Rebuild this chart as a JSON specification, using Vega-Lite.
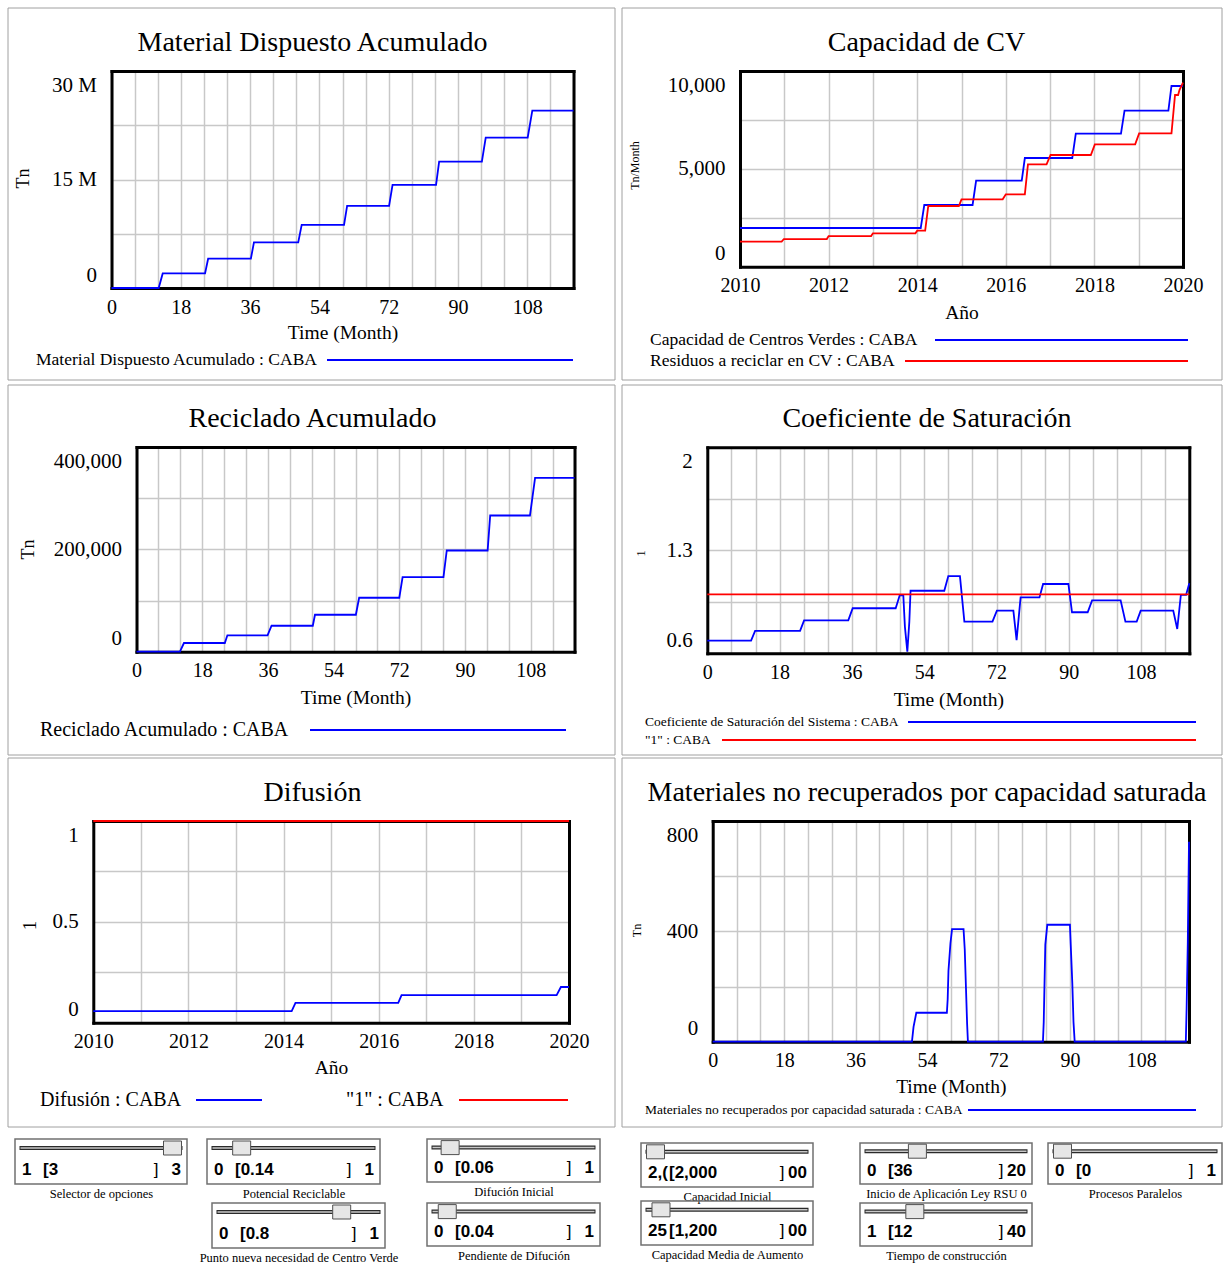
{
  "$schema": "https://vega.github.io/schema/vega-lite/v6.json",
  "width": 1224,
  "height": 1264,
  "padding": 0,
  "autosize": {"type": "none"},
  "background": "white",
  "config": {
    "view": {"stroke": null},
    "font": "Liberation Serif",
    "axis": {"labelFont": "Liberation Serif", "titleFont": "Liberation Serif", "labelColor": "#000000", "titleColor": "#000000", "titleFontWeight": "normal", "domainColor": "#000000", "domainWidth": 3, "domainCap": "square", "gridColor": "#c8c8c8", "gridWidth": 1.5, "gridOpacity": 1, "ticks": false, "tickSize": 0, "labelOverlap": false, "labelBound": false, "labelFlush": false, "labelFontSize": 20, "labelPadding": 9, "titleFontSize": 19.5, "titlePadding": 0},
    "legend": {"labelFont": "Liberation Serif", "labelColor": "#000000", "padding": 0, "symbolSize": 4, "symbolStrokeWidth": 1.8, "labelAlign": "left", "labelBaseline": "middle", "labelLimit": 1000, "orient": "none"}
  },
  "datasets": {
    "p1": [
      {"t": 0, "v": 0, "s": "Material Dispuesto Acumulado : CABA"},
      {"t": 12.26, "v": 0, "s": "Material Dispuesto Acumulado : CABA"},
      {"t": 13.3, "v": 2020000, "s": "Material Dispuesto Acumulado : CABA"},
      {"t": 24.3, "v": 2020000, "s": "Material Dispuesto Acumulado : CABA"},
      {"t": 25.1, "v": 4050000, "s": "Material Dispuesto Acumulado : CABA"},
      {"t": 36.2, "v": 4050000, "s": "Material Dispuesto Acumulado : CABA"},
      {"t": 37, "v": 6300000, "s": "Material Dispuesto Acumulado : CABA"},
      {"t": 48.5, "v": 6300000, "s": "Material Dispuesto Acumulado : CABA"},
      {"t": 49.4, "v": 8740000, "s": "Material Dispuesto Acumulado : CABA"},
      {"t": 60.4, "v": 8740000, "s": "Material Dispuesto Acumulado : CABA"},
      {"t": 61.2, "v": 11360000, "s": "Material Dispuesto Acumulado : CABA"},
      {"t": 72.1, "v": 11360000, "s": "Material Dispuesto Acumulado : CABA"},
      {"t": 73, "v": 14260000, "s": "Material Dispuesto Acumulado : CABA"},
      {"t": 84.3, "v": 14260000, "s": "Material Dispuesto Acumulado : CABA"},
      {"t": 85.1, "v": 17480000, "s": "Material Dispuesto Acumulado : CABA"},
      {"t": 96.2, "v": 17480000, "s": "Material Dispuesto Acumulado : CABA"},
      {"t": 97.2, "v": 20800000, "s": "Material Dispuesto Acumulado : CABA"},
      {"t": 108.1, "v": 20800000, "s": "Material Dispuesto Acumulado : CABA"},
      {"t": 109.3, "v": 24520000, "s": "Material Dispuesto Acumulado : CABA"},
      {"t": 120, "v": 24520000, "s": "Material Dispuesto Acumulado : CABA"}
    ],
    "p2": [
      {"t": 2010, "v": 1978, "s": "Capacidad de Centros Verdes : CABA"},
      {"t": 2014.08, "v": 1978, "s": "Capacidad de Centros Verdes : CABA"},
      {"t": 2014.16, "v": 3153, "s": "Capacidad de Centros Verdes : CABA"},
      {"t": 2015.25, "v": 3153, "s": "Capacidad de Centros Verdes : CABA"},
      {"t": 2015.33, "v": 4395, "s": "Capacidad de Centros Verdes : CABA"},
      {"t": 2016.36, "v": 4395, "s": "Capacidad de Centros Verdes : CABA"},
      {"t": 2016.43, "v": 5554, "s": "Capacidad de Centros Verdes : CABA"},
      {"t": 2017.5, "v": 5554, "s": "Capacidad de Centros Verdes : CABA"},
      {"t": 2017.58, "v": 6798, "s": "Capacidad de Centros Verdes : CABA"},
      {"t": 2018.6, "v": 6798, "s": "Capacidad de Centros Verdes : CABA"},
      {"t": 2018.68, "v": 7973, "s": "Capacidad de Centros Verdes : CABA"},
      {"t": 2019.67, "v": 7973, "s": "Capacidad de Centros Verdes : CABA"},
      {"t": 2019.74, "v": 9234, "s": "Capacidad de Centros Verdes : CABA"},
      {"t": 2020, "v": 9234, "s": "Capacidad de Centros Verdes : CABA"},
      {"t": 2010, "v": 1278, "s": "Residuos a reciclar en CV : CABA"},
      {"t": 2010.94, "v": 1278, "s": "Residuos a reciclar en CV : CABA"},
      {"t": 2010.99, "v": 1414, "s": "Residuos a reciclar en CV : CABA"},
      {"t": 2011.96, "v": 1414, "s": "Residuos a reciclar en CV : CABA"},
      {"t": 2012.0, "v": 1567, "s": "Residuos a reciclar en CV : CABA"},
      {"t": 2012.96, "v": 1567, "s": "Residuos a reciclar en CV : CABA"},
      {"t": 2013.0, "v": 1704, "s": "Residuos a reciclar en CV : CABA"},
      {"t": 2013.96, "v": 1704, "s": "Residuos a reciclar en CV : CABA"},
      {"t": 2014.0, "v": 1840, "s": "Residuos a reciclar en CV : CABA"},
      {"t": 2014.18, "v": 1840, "s": "Residuos a reciclar en CV : CABA"},
      {"t": 2014.25, "v": 3102, "s": "Residuos a reciclar en CV : CABA"},
      {"t": 2014.94, "v": 3102, "s": "Residuos a reciclar en CV : CABA"},
      {"t": 2015.0, "v": 3444, "s": "Residuos a reciclar en CV : CABA"},
      {"t": 2015.93, "v": 3444, "s": "Residuos a reciclar en CV : CABA"},
      {"t": 2016.0, "v": 3700, "s": "Residuos a reciclar en CV : CABA"},
      {"t": 2016.43, "v": 3700, "s": "Residuos a reciclar en CV : CABA"},
      {"t": 2016.5, "v": 5232, "s": "Residuos a reciclar en CV : CABA"},
      {"t": 2016.92, "v": 5232, "s": "Residuos a reciclar en CV : CABA"},
      {"t": 2017.01, "v": 5708, "s": "Residuos a reciclar en CV : CABA"},
      {"t": 2017.92, "v": 5708, "s": "Residuos a reciclar en CV : CABA"},
      {"t": 2018.01, "v": 6252, "s": "Residuos a reciclar en CV : CABA"},
      {"t": 2018.92, "v": 6252, "s": "Residuos a reciclar en CV : CABA"},
      {"t": 2019.01, "v": 6815, "s": "Residuos a reciclar en CV : CABA"},
      {"t": 2019.74, "v": 6815, "s": "Residuos a reciclar en CV : CABA"},
      {"t": 2019.82, "v": 8773, "s": "Residuos a reciclar en CV : CABA"},
      {"t": 2019.89, "v": 8773, "s": "Residuos a reciclar en CV : CABA"},
      {"t": 2019.92, "v": 9029, "s": "Residuos a reciclar en CV : CABA"},
      {"t": 2020, "v": 9404, "s": "Residuos a reciclar en CV : CABA"}
    ],
    "p3": [
      {"t": 0, "v": 0, "s": "Reciclado Acumulado : CABA"},
      {"t": 11.9, "v": 0, "s": "Reciclado Acumulado : CABA"},
      {"t": 13, "v": 17000, "s": "Reciclado Acumulado : CABA"},
      {"t": 24.2, "v": 17000, "s": "Reciclado Acumulado : CABA"},
      {"t": 24.9, "v": 32000, "s": "Reciclado Acumulado : CABA"},
      {"t": 35.9, "v": 32000, "s": "Reciclado Acumulado : CABA"},
      {"t": 37, "v": 50700, "s": "Reciclado Acumulado : CABA"},
      {"t": 48.3, "v": 50700, "s": "Reciclado Acumulado : CABA"},
      {"t": 48.9, "v": 72200, "s": "Reciclado Acumulado : CABA"},
      {"t": 60.1, "v": 72200, "s": "Reciclado Acumulado : CABA"},
      {"t": 61, "v": 105400, "s": "Reciclado Acumulado : CABA"},
      {"t": 72, "v": 105400, "s": "Reciclado Acumulado : CABA"},
      {"t": 72.9, "v": 145800, "s": "Reciclado Acumulado : CABA"},
      {"t": 84.1, "v": 145800, "s": "Reciclado Acumulado : CABA"},
      {"t": 85, "v": 197800, "s": "Reciclado Acumulado : CABA"},
      {"t": 96.2, "v": 197800, "s": "Reciclado Acumulado : CABA"},
      {"t": 96.9, "v": 266100, "s": "Reciclado Acumulado : CABA"},
      {"t": 107.8, "v": 266100, "s": "Reciclado Acumulado : CABA"},
      {"t": 109.2, "v": 339500, "s": "Reciclado Acumulado : CABA"},
      {"t": 120, "v": 339500, "s": "Reciclado Acumulado : CABA"}
    ],
    "p4": [
      {"t": 0, "v": 0.686, "s": "Coeficiente de Saturación del Sistema : CABA"},
      {"t": 10.9, "v": 0.686, "s": "Coeficiente de Saturación del Sistema : CABA"},
      {"t": 11.9, "v": 0.752, "s": "Coeficiente de Saturación del Sistema : CABA"},
      {"t": 23.1, "v": 0.752, "s": "Coeficiente de Saturación del Sistema : CABA"},
      {"t": 24.1, "v": 0.824, "s": "Coeficiente de Saturación del Sistema : CABA"},
      {"t": 35.1, "v": 0.824, "s": "Coeficiente de Saturación del Sistema : CABA"},
      {"t": 36.2, "v": 0.906, "s": "Coeficiente de Saturación del Sistema : CABA"},
      {"t": 46.9, "v": 0.906, "s": "Coeficiente de Saturación del Sistema : CABA"},
      {"t": 47.9, "v": 0.994, "s": "Coeficiente de Saturación del Sistema : CABA"},
      {"t": 48.8, "v": 0.994, "s": "Coeficiente de Saturación del Sistema : CABA"},
      {"t": 49.2, "v": 0.78, "s": "Coeficiente de Saturación del Sistema : CABA"},
      {"t": 49.8, "v": 0.611, "s": "Coeficiente de Saturación del Sistema : CABA"},
      {"t": 50.3, "v": 0.815, "s": "Coeficiente de Saturación del Sistema : CABA"},
      {"t": 50.6, "v": 1.025, "s": "Coeficiente de Saturación del Sistema : CABA"},
      {"t": 59, "v": 1.025, "s": "Coeficiente de Saturación del Sistema : CABA"},
      {"t": 60, "v": 1.125, "s": "Coeficiente de Saturación del Sistema : CABA"},
      {"t": 62.9, "v": 1.125, "s": "Coeficiente de Saturación del Sistema : CABA"},
      {"t": 64, "v": 0.815, "s": "Coeficiente de Saturación del Sistema : CABA"},
      {"t": 71, "v": 0.815, "s": "Coeficiente de Saturación del Sistema : CABA"},
      {"t": 72.1, "v": 0.89, "s": "Coeficiente de Saturación del Sistema : CABA"},
      {"t": 76.2, "v": 0.89, "s": "Coeficiente de Saturación del Sistema : CABA"},
      {"t": 77, "v": 0.69, "s": "Coeficiente de Saturación del Sistema : CABA"},
      {"t": 78, "v": 0.98, "s": "Coeficiente de Saturación del Sistema : CABA"},
      {"t": 82.7, "v": 0.98, "s": "Coeficiente de Saturación del Sistema : CABA"},
      {"t": 83.6, "v": 1.071, "s": "Coeficiente de Saturación del Sistema : CABA"},
      {"t": 89.9, "v": 1.071, "s": "Coeficiente de Saturación del Sistema : CABA"},
      {"t": 90.8, "v": 0.879, "s": "Coeficiente de Saturación del Sistema : CABA"},
      {"t": 94.7, "v": 0.879, "s": "Coeficiente de Saturación del Sistema : CABA"},
      {"t": 95.8, "v": 0.96, "s": "Coeficiente de Saturación del Sistema : CABA"},
      {"t": 102.9, "v": 0.96, "s": "Coeficiente de Saturación del Sistema : CABA"},
      {"t": 104.1, "v": 0.815, "s": "Coeficiente de Saturación del Sistema : CABA"},
      {"t": 106.9, "v": 0.815, "s": "Coeficiente de Saturación del Sistema : CABA"},
      {"t": 107.9, "v": 0.89, "s": "Coeficiente de Saturación del Sistema : CABA"},
      {"t": 116, "v": 0.89, "s": "Coeficiente de Saturación del Sistema : CABA"},
      {"t": 117, "v": 0.765, "s": "Coeficiente de Saturación del Sistema : CABA"},
      {"t": 117.9, "v": 0.997, "s": "Coeficiente de Saturación del Sistema : CABA"},
      {"t": 119.2, "v": 0.997, "s": "Coeficiente de Saturación del Sistema : CABA"},
      {"t": 120, "v": 1.076, "s": "Coeficiente de Saturación del Sistema : CABA"},
      {"t": 0, "v": 1, "s": "\"1\" : CABA"},
      {"t": 120, "v": 1, "s": "\"1\" : CABA"}
    ],
    "p5": [
      {"t": 2010, "v": 0.057, "s": "Difusión : CABA"},
      {"t": 2014.17, "v": 0.057, "s": "Difusión : CABA"},
      {"t": 2014.25, "v": 0.098, "s": "Difusión : CABA"},
      {"t": 2016.41, "v": 0.098, "s": "Difusión : CABA"},
      {"t": 2016.48, "v": 0.137, "s": "Difusión : CABA"},
      {"t": 2019.74, "v": 0.137, "s": "Difusión : CABA"},
      {"t": 2019.83, "v": 0.177, "s": "Difusión : CABA"},
      {"t": 2020, "v": 0.177, "s": "Difusión : CABA"},
      {"t": 2010, "v": 1, "s": "\"1\" : CABA"},
      {"t": 2020, "v": 1, "s": "\"1\" : CABA"}
    ],
    "p6": [
      {"t": 0, "v": 0, "s": "Materiales no recuperados por capacidad saturada : CABA"},
      {"t": 50.2, "v": 0, "s": "Materiales no recuperados por capacidad saturada : CABA"},
      {"t": 50.6, "v": 54, "s": "Materiales no recuperados por capacidad saturada : CABA"},
      {"t": 51.3, "v": 105, "s": "Materiales no recuperados por capacidad saturada : CABA"},
      {"t": 59, "v": 105, "s": "Materiales no recuperados por capacidad saturada : CABA"},
      {"t": 59.2, "v": 154, "s": "Materiales no recuperados por capacidad saturada : CABA"},
      {"t": 59.4, "v": 257, "s": "Materiales no recuperados por capacidad saturada : CABA"},
      {"t": 59.9, "v": 357, "s": "Materiales no recuperados por capacidad saturada : CABA"},
      {"t": 60.3, "v": 408, "s": "Materiales no recuperados por capacidad saturada : CABA"},
      {"t": 63.2, "v": 408, "s": "Materiales no recuperados por capacidad saturada : CABA"},
      {"t": 63.5, "v": 335, "s": "Materiales no recuperados por capacidad saturada : CABA"},
      {"t": 63.8, "v": 199, "s": "Materiales no recuperados por capacidad saturada : CABA"},
      {"t": 64.1, "v": 64, "s": "Materiales no recuperados por capacidad saturada : CABA"},
      {"t": 64.3, "v": 0, "s": "Materiales no recuperados por capacidad saturada : CABA"},
      {"t": 83.2, "v": 0, "s": "Materiales no recuperados por capacidad saturada : CABA"},
      {"t": 83.4, "v": 71, "s": "Materiales no recuperados por capacidad saturada : CABA"},
      {"t": 83.6, "v": 213, "s": "Materiales no recuperados por capacidad saturada : CABA"},
      {"t": 83.8, "v": 352, "s": "Materiales no recuperados por capacidad saturada : CABA"},
      {"t": 84.3, "v": 424, "s": "Materiales no recuperados por capacidad saturada : CABA"},
      {"t": 90, "v": 424, "s": "Materiales no recuperados por capacidad saturada : CABA"},
      {"t": 90.2, "v": 352, "s": "Materiales no recuperados por capacidad saturada : CABA"},
      {"t": 90.6, "v": 213, "s": "Materiales no recuperados por capacidad saturada : CABA"},
      {"t": 90.9, "v": 71, "s": "Materiales no recuperados por capacidad saturada : CABA"},
      {"t": 91.2, "v": 0, "s": "Materiales no recuperados por capacidad saturada : CABA"},
      {"t": 119.2, "v": 0, "s": "Materiales no recuperados por capacidad saturada : CABA"},
      {"t": 119.4, "v": 121, "s": "Materiales no recuperados por capacidad saturada : CABA"},
      {"t": 119.7, "v": 362, "s": "Materiales no recuperados por capacidad saturada : CABA"},
      {"t": 120, "v": 725, "s": "Materiales no recuperados por capacidad saturada : CABA"}
    ]
  },
  "resolve": {"scale": {"x": "independent", "y": "independent", "color": "independent"}},
  "layer": [
    {
      "data": {"name": "p1"},
      "resolve": {"axis": {"x": "independent", "y": "independent"}},
      "layer": [
        {
          "mark": {"type": "line", "strokeWidth": 1.8},
          "encoding": {
            "x": {"field": "t", "type": "quantitative", "scale": {"domain": [0, 120], "range": [111.5, 573.5], "nice": false, "zero": false},
              "axis": {"orient": "top", "offset": -71, "grid": true, "labels": false, "values": [0, 6, 12, 18, 24, 30, 36, 42, 48, 54, 60, 66, 72, 78, 84, 90, 96, 102, 108, 114, 120], "title": "Material Dispuesto Acumulado", "titleFontSize": 28, "titleX": 312, "titleY": -21, "titleAlign": "center", "titleBaseline": "alphabetic", "titleAngle": 0}},
            "y": {"field": "v", "type": "quantitative", "scale": {"domain": [0, 30000000], "range": [288, 71], "nice": false, "zero": false},
              "axis": {"orient": "left", "offset": -111.5, "grid": true, "values": [0, 7500000, 15000000, 22500000, 30000000], "labelExpr": "datum.value === 0 ? '0' : datum.value === 15000000 ? '15 M' : datum.value === 30000000 ? '30 M' : ''", "labelFlush": true, "labelFlushOffset": -3, "labelFontSize": 21, "labelPadding": 15, "title": "Tn", "titleFontSize": 18, "titleX": -83.5, "titleY": 178, "titleAlign": "center", "titleBaseline": "alphabetic", "titleAngle": 270}},
            "color": {"field": "s", "type": "nominal", "scale": {"domain": ["Material Dispuesto Acumulado : CABA"], "range": ["#0000ff"]},
              "legend": {"title": null, "orient": "none", "legendX": 564.25, "legendY": 351.25, "labelFontSize": 17.5, "labelOffset": -545.75, "symbolType": "M-246,0H0"}}
          }
        },
        {
          "mark": {"type": "line", "opacity": 0},
          "encoding": {
            "x": {"field": "t", "type": "quantitative", "axis": {"orient": "bottom", "offset": -976, "grid": false, "values": [0, 18, 36, 54, 72, 90, 108], "title": "Time (Month)", "titleX": 342.5, "titleY": 50, "titleAlign": "center", "titleBaseline": "alphabetic"}},
            "y": {"field": "v", "type": "quantitative", "axis": {"orient": "right", "offset": -650.5, "grid": false, "labels": false, "title": null}}
          }
        },
        {
          "data": {"values": [{}]},
          "mark": {"type": "rect", "filled": false, "stroke": "#a0a0a0", "strokeWidth": 1, "xOffset": -103.5, "x2Offset": 41.5, "yOffset": 92, "y2Offset": -63},
          "encoding": {"x": {"datum": 0, "type": "quantitative", "axis": null}, "x2": {"datum": 120}, "y": {"datum": 0, "type": "quantitative", "axis": null}, "y2": {"datum": 30000000}}
        }
      ]
    },
    {
      "data": {"name": "p2"},
      "resolve": {"axis": {"x": "independent", "y": "independent"}},
      "layer": [
        {
          "mark": {"type": "line", "strokeWidth": 1.8},
          "encoding": {
            "x": {"field": "t", "type": "quantitative", "scale": {"domain": [2010, 2020], "range": [740, 1183], "nice": false, "zero": false},
              "axis": {"orient": "top", "offset": -71, "grid": true, "labels": false, "values": [2010, 2011, 2012, 2013, 2014, 2015, 2016, 2017, 2018, 2019, 2020], "title": "Capacidad de CV", "titleFontSize": 28, "titleX": 926, "titleY": -21, "titleAlign": "center", "titleBaseline": "alphabetic", "titleAngle": 0}},
            "y": {"field": "v", "type": "quantitative", "scale": {"domain": [0, 10000], "range": [266.7, 71], "nice": false, "zero": false},
              "axis": {"orient": "left", "offset": -740, "grid": true, "values": [0, 2500, 5000, 7500, 10000], "format": ",d", "labelExpr": "datum.value % 5000 === 0 ? datum.label : ''", "labelFlush": true, "labelFlushOffset": -3, "labelFontSize": 21, "labelPadding": 15, "title": "Tn/Month", "titleFontSize": 12, "titleX": -102, "titleY": 165, "titleAlign": "center", "titleBaseline": "alphabetic", "titleAngle": 270}},
            "color": {"field": "s", "type": "nominal", "scale": {"domain": ["Capacidad de Centros Verdes : CABA", "Residuos a reciclar en CV : CABA"], "range": ["#0000ff", "#ff0000"]},
              "legend": {"title": null, "orient": "none", "legendX": 1179.25, "legendY": 331.25, "labelFontSize": 17.5, "labelOffset": -546.75, "rowPadding": 2, "direction": "vertical",
                "encode": {"symbols": {"update": {"shape": {"signal": "datum.index === 0 ? 'M-253,0H0' : 'M-283,0H0'"}}}}}}
          }
        },
        {
          "mark": {"type": "line", "opacity": 0},
          "encoding": {
            "x": {"field": "t", "type": "quantitative", "axis": {"orient": "bottom", "offset": -997.3, "grid": false, "values": [2010, 2012, 2014, 2016, 2018, 2020], "format": "d", "title": "Año", "titleX": 961.5, "titleY": 51.5, "titleAlign": "center", "titleBaseline": "alphabetic"}},
            "y": {"field": "v", "type": "quantitative", "axis": {"orient": "right", "offset": -41, "grid": false, "labels": false, "title": null}}
          }
        },
        {
          "data": {"values": [{}]},
          "mark": {"type": "rect", "filled": false, "stroke": "#a0a0a0", "strokeWidth": 1, "xOffset": -118, "x2Offset": 39, "yOffset": 113.3, "y2Offset": -63},
          "encoding": {"x": {"datum": 2010, "type": "quantitative", "axis": null}, "x2": {"datum": 2020}, "y": {"datum": 0, "type": "quantitative", "axis": null}, "y2": {"datum": 10000}}
        }
      ]
    },
    {
      "data": {"name": "p3"},
      "resolve": {"axis": {"x": "independent", "y": "independent"}},
      "layer": [
        {
          "mark": {"type": "line", "strokeWidth": 1.8},
          "encoding": {
            "x": {"field": "t", "type": "quantitative", "scale": {"domain": [0, 120], "range": [136.5, 574.5], "nice": false, "zero": false},
              "axis": {"orient": "top", "offset": -447, "grid": true, "labels": false, "values": [0, 6, 12, 18, 24, 30, 36, 42, 48, 54, 60, 66, 72, 78, 84, 90, 96, 102, 108, 114, 120], "title": "Reciclado Acumulado", "titleFontSize": 28, "titleX": 312, "titleY": -21, "titleAlign": "center", "titleBaseline": "alphabetic", "titleAngle": 0}},
            "y": {"field": "v", "type": "quantitative", "scale": {"domain": [0, 400000], "range": [651.7, 447], "nice": false, "zero": false},
              "axis": {"orient": "left", "offset": -136.5, "grid": true, "values": [0, 100000, 200000, 300000, 400000], "format": ",d", "labelExpr": "datum.value % 200000 === 0 ? datum.label : ''", "labelFlush": true, "labelFlushOffset": -3, "labelFontSize": 21, "labelPadding": 15, "title": "Tn", "titleFontSize": 18, "titleX": -103.5, "titleY": 549, "titleAlign": "center", "titleBaseline": "alphabetic", "titleAngle": 270}},
            "color": {"field": "s", "type": "nominal", "scale": {"domain": ["Reciclado Acumulado : CABA"], "range": ["#0000ff"]},
              "legend": {"title": null, "orient": "none", "legendX": 556, "legendY": 720, "labelFontSize": 20, "labelOffset": -536, "symbolType": "M-256,0H0"}}
          }
        },
        {
          "mark": {"type": "line", "opacity": 0},
          "encoding": {
            "x": {"field": "t", "type": "quantitative", "axis": {"orient": "bottom", "offset": -612.3, "grid": false, "values": [0, 18, 36, 54, 72, 90, 108], "title": "Time (Month)", "titleX": 355.5, "titleY": 51.3, "titleAlign": "center", "titleBaseline": "alphabetic"}},
            "y": {"field": "v", "type": "quantitative", "axis": {"orient": "right", "offset": -649.5, "grid": false, "labels": false, "title": null}}
          }
        },
        {
          "data": {"values": [{}]},
          "mark": {"type": "rect", "filled": false, "stroke": "#a0a0a0", "strokeWidth": 1, "xOffset": -128.5, "x2Offset": 40.5, "yOffset": 103.3, "y2Offset": -62},
          "encoding": {"x": {"datum": 0, "type": "quantitative", "axis": null}, "x2": {"datum": 120}, "y": {"datum": 0, "type": "quantitative", "axis": null}, "y2": {"datum": 400000}}
        }
      ]
    },
    {
      "data": {"name": "p4"},
      "resolve": {"axis": {"x": "independent", "y": "independent"}},
      "layer": [
        {
          "mark": {"type": "line", "strokeWidth": 1.8},
          "encoding": {
            "x": {"field": "t", "type": "quantitative", "scale": {"domain": [0, 120], "range": [707.3, 1189.3], "nice": false, "zero": false},
              "axis": {"orient": "top", "offset": -447.3, "grid": true, "labels": false, "values": [0, 6, 12, 18, 24, 30, 36, 42, 48, 54, 60, 66, 72, 78, 84, 90, 96, 102, 108, 114, 120], "title": "Coeficiente de Saturación", "titleFontSize": 28, "titleX": 926.5, "titleY": -21, "titleAlign": "center", "titleBaseline": "alphabetic", "titleAngle": 0}},
            "y": {"field": "v", "type": "quantitative", "scale": {"domain": [0.6, 2], "range": [653.3, 447.3], "nice": false, "zero": false},
              "axis": {"orient": "left", "offset": -707.3, "grid": true, "values": [0.6, 0.95, 1.3, 1.65, 2], "labelExpr": "datum.value === 2 ? '2' : datum.value === 1.3 ? '1.3' : datum.value === 0.6 ? '0.6' : ''", "labelFlush": true, "labelFlushOffset": -3, "labelFontSize": 21, "labelPadding": 15, "title": "1", "titleFontSize": 13, "titleX": -63.3, "titleY": 553, "titleAlign": "center", "titleBaseline": "alphabetic", "titleAngle": 270}},
            "color": {"field": "s", "type": "nominal", "scale": {"domain": ["Coeficiente de Saturación del Sistema : CABA", "\"1\" : CABA"], "range": ["#0000ff", "#ff0000"]},
              "legend": {"title": null, "orient": "none", "legendX": 1189.25, "legendY": 715.25, "labelFontSize": 13.5, "labelOffset": -557.75, "rowPadding": 3, "direction": "vertical",
                "encode": {"symbols": {"update": {"shape": {"signal": "datum.index === 0 ? 'M-288,0H0' : 'M-474,0H0'"}}}}}}
          }
        },
        {
          "mark": {"type": "line", "opacity": 0},
          "encoding": {
            "x": {"field": "t", "type": "quantitative", "axis": {"orient": "bottom", "offset": -610.7, "grid": false, "values": [0, 18, 36, 54, 72, 90, 108], "title": "Time (Month)", "titleX": 948.3, "titleY": 51.7, "titleAlign": "center", "titleBaseline": "alphabetic"}},
            "y": {"field": "v", "type": "quantitative", "axis": {"orient": "right", "offset": -34.7, "grid": false, "labels": false, "title": null}}
          }
        },
        {
          "data": {"values": [{}]},
          "mark": {"type": "rect", "filled": false, "stroke": "#a0a0a0", "strokeWidth": 1, "xOffset": -85.3, "x2Offset": 32.7, "yOffset": 101.7, "y2Offset": -62.3},
          "encoding": {"x": {"datum": 0, "type": "quantitative", "axis": null}, "x2": {"datum": 120}, "y": {"datum": 0.6, "type": "quantitative", "axis": null}, "y2": {"datum": 2}}
        }
      ]
    },
    {
      "data": {"name": "p5"},
      "resolve": {"axis": {"x": "independent", "y": "independent"}},
      "layer": [
        {
          "mark": {"type": "line", "strokeWidth": 1.8},
          "encoding": {
            "x": {"field": "t", "type": "quantitative", "scale": {"domain": [2010, 2020], "range": [93.3, 569], "nice": false, "zero": false},
              "axis": {"orient": "top", "offset": -821, "grid": true, "labels": false, "values": [2010, 2011, 2012, 2013, 2014, 2015, 2016, 2017, 2018, 2019, 2020], "title": "Difusión", "titleFontSize": 28, "titleX": 312, "titleY": -21, "titleAlign": "center", "titleBaseline": "alphabetic", "titleAngle": 0}},
            "y": {"field": "v", "type": "quantitative", "scale": {"domain": [0, 1], "range": [1022.7, 821], "nice": false, "zero": false},
              "axis": {"orient": "left", "offset": -93.3, "grid": true, "values": [0, 0.25, 0.5, 0.75, 1], "labelExpr": "datum.value === 1 ? '1' : datum.value === 0.5 ? '0.5' : datum.value === 0 ? '0' : ''", "labelFlush": true, "labelFlushOffset": -3, "labelFontSize": 21, "labelPadding": 15, "title": "1", "titleFontSize": 18, "titleX": -58.3, "titleY": 925, "titleAlign": "center", "titleBaseline": "alphabetic", "titleAngle": 270}},
            "color": {"field": "s", "type": "nominal", "scale": {"domain": ["Difusión : CABA", "\"1\" : CABA"], "range": ["#0000ff", "#ff0000"]},
              "legend": {"title": null, "orient": "none", "legendX": 252, "legendY": 1090, "labelFontSize": 20, "labelOffset": -232, "direction": "horizontal", "columns": 2, "columnPadding": 80,
                "encode": {"symbols": {"update": {"shape": {"signal": "datum.index === 0 ? 'M-66,0H0' : 'M-109,0H0'"}}}}}}
          }
        },
        {
          "mark": {"type": "line", "opacity": 0},
          "encoding": {
            "x": {"field": "t", "type": "quantitative", "axis": {"orient": "bottom", "offset": -241.3, "grid": false, "values": [2010, 2012, 2014, 2016, 2018, 2020], "format": "d", "title": "Año", "titleX": 331, "titleY": 50.3, "titleAlign": "center", "titleBaseline": "alphabetic"}},
            "y": {"field": "v", "type": "quantitative", "axis": {"orient": "right", "offset": -655, "grid": false, "labels": false, "title": null}}
          }
        },
        {
          "data": {"values": [{}]},
          "mark": {"type": "rect", "filled": false, "stroke": "#a0a0a0", "strokeWidth": 1, "xOffset": -85.3, "x2Offset": 46, "yOffset": 104.3, "y2Offset": -63},
          "encoding": {"x": {"datum": 2010, "type": "quantitative", "axis": null}, "x2": {"datum": 2020}, "y": {"datum": 0, "type": "quantitative", "axis": null}, "y2": {"datum": 1}}
        }
      ]
    },
    {
      "data": {"name": "p6"},
      "resolve": {"axis": {"x": "independent", "y": "independent"}},
      "layer": [
        {
          "mark": {"type": "line", "strokeWidth": 1.8},
          "encoding": {
            "x": {"field": "t", "type": "quantitative", "scale": {"domain": [0, 120], "range": [712.7, 1189], "nice": false, "zero": false},
              "axis": {"orient": "top", "offset": -821, "grid": true, "labels": false, "values": [0, 6, 12, 18, 24, 30, 36, 42, 48, 54, 60, 66, 72, 78, 84, 90, 96, 102, 108, 114, 120], "title": "Materiales no recuperados por capacidad saturada", "titleFontSize": 28, "titleX": 926.5, "titleY": -21, "titleAlign": "center", "titleBaseline": "alphabetic", "titleAngle": 0}},
            "y": {"field": "v", "type": "quantitative", "scale": {"domain": [0, 800], "range": [1041.7, 821], "nice": false, "zero": false},
              "axis": {"orient": "left", "offset": -712.7, "grid": true, "values": [0, 200, 400, 600, 800], "labelExpr": "datum.value % 400 === 0 ? datum.label : ''", "labelFlush": true, "labelFlushOffset": -3, "labelFontSize": 21, "labelPadding": 15, "title": "Tn", "titleFontSize": 12, "titleX": -72.7, "titleY": 930, "titleAlign": "center", "titleBaseline": "alphabetic", "titleAngle": 270}},
            "color": {"field": "s", "type": "nominal", "scale": {"domain": ["Materiales no recuperados por capacidad saturada : CABA"], "range": ["#0000ff"]},
              "legend": {"title": null, "orient": "none", "legendX": 1189.25, "legendY": 1103.25, "labelFontSize": 13.5, "labelOffset": -557.75, "symbolType": "M-228,0H0"}}
          }
        },
        {
          "mark": {"type": "line", "opacity": 0},
          "encoding": {
            "x": {"field": "t", "type": "quantitative", "axis": {"orient": "bottom", "offset": -222.3, "grid": false, "values": [0, 18, 36, 54, 72, 90, 108], "title": "Time (Month)", "titleX": 950.8, "titleY": 50.3, "titleAlign": "center", "titleBaseline": "alphabetic"}},
            "y": {"field": "v", "type": "quantitative", "axis": {"orient": "right", "offset": -35, "grid": false, "labels": false, "title": null}}
          }
        },
        {
          "data": {"values": [{}]},
          "mark": {"type": "rect", "filled": false, "stroke": "#a0a0a0", "strokeWidth": 1, "xOffset": -90.7, "x2Offset": 33, "yOffset": 85.3, "y2Offset": -63},
          "encoding": {"x": {"datum": 0, "type": "quantitative", "axis": null}, "x2": {"datum": 120}, "y": {"datum": 0, "type": "quantitative", "axis": null}, "y2": {"datum": 800}}
        }
      ]
    },
    {
      "data": {"values": [{"min": 1, "max": 3, "value": 3, "lo": "1", "val": "[3", "hi": "3"}]},
      "resolve": {"axis": {"x": "independent", "y": "independent"}},
      "layer": [
        {"mark": {"type": "rect", "filled": false, "stroke": "#707070", "strokeWidth": 1.5, "xOffset": -14.5, "x2Offset": 14.5},
          "encoding": {"x": {"field": "min", "type": "quantitative", "scale": {"domain": [1, 3], "range": [15, 187], "padding": 14.5, "nice": false, "zero": false},
            "axis": {"orient": "bottom", "offset": -80, "domain": false, "labels": false, "grid": false, "title": "Selector de opciones", "titleFontSize": 12.5, "titleY": 13, "titleBaseline": "alphabetic", "titleAlign": "center"}},
            "x2": {"field": "max"}, "y": {"datum": 0, "type": "quantitative", "scale": {"domain": [0, 1], "range": [1184, 1139], "nice": false, "zero": false}, "axis": null}, "y2": {"datum": 1}}},
        {"mark": {"type": "rule", "stroke": "#2a2a2a", "strokeWidth": 4, "xOffset": -10, "x2Offset": 10}, "encoding": {"x": {"field": "min", "type": "quantitative", "axis": null}, "x2": {"field": "max"}, "y": {"datum": 0.8, "type": "quantitative", "axis": null}}},
        {"mark": {"type": "rule", "stroke": "#c8c8c8", "strokeWidth": 1.5, "xOffset": -9, "x2Offset": 9}, "encoding": {"x": {"field": "min", "type": "quantitative", "axis": null}, "x2": {"field": "max"}, "y": {"datum": 0.8, "type": "quantitative", "axis": null}}},
        {"mark": {"type": "point", "shape": "M-9,-7H9V7H-9Z", "size": 4, "filled": true, "fill": "#e6e6e6", "stroke": "#505050", "strokeWidth": 1, "opacity": 1}, "encoding": {"x": {"field": "value", "type": "quantitative", "axis": null}, "y": {"datum": 0.8, "type": "quantitative", "axis": null}}},
        {"mark": {"type": "text", "align": "left", "baseline": "middle", "dx": -7.5, "font": "Liberation Sans", "fontWeight": "bold", "fontSize": 17}, "encoding": {"x": {"field": "min", "type": "quantitative", "axis": null}, "y": {"datum": 0.32, "type": "quantitative", "axis": null}, "text": {"field": "lo"}}},
        {"mark": {"type": "text", "align": "left", "baseline": "middle", "dx": 13.5, "font": "Liberation Sans", "fontWeight": "bold", "fontSize": 17}, "encoding": {"x": {"field": "min", "type": "quantitative", "axis": null}, "y": {"datum": 0.32, "type": "quantitative", "axis": null}, "text": {"field": "val"}}},
        {"mark": {"type": "text", "align": "center", "baseline": "middle", "dx": -16.5, "font": "Liberation Sans", "fontSize": 17, "text": "]"}, "encoding": {"x": {"field": "max", "type": "quantitative", "axis": null}, "y": {"datum": 0.32, "type": "quantitative", "axis": null}}},
        {"mark": {"type": "text", "align": "right", "baseline": "middle", "dx": 8.5, "font": "Liberation Sans", "fontWeight": "bold", "fontSize": 17}, "encoding": {"x": {"field": "max", "type": "quantitative", "axis": null}, "y": {"datum": 0.32, "type": "quantitative", "axis": null}, "text": {"field": "hi"}}}
      ]
    },
    {
      "data": {"values": [{"min": 0, "max": 1, "value": 0.14, "lo": "0", "val": "[0.14", "hi": "1"}]},
      "resolve": {"axis": {"x": "independent", "y": "independent"}},
      "layer": [
        {"mark": {"type": "rect", "filled": false, "stroke": "#707070", "strokeWidth": 1.5, "xOffset": -14.5, "x2Offset": 14.5},
          "encoding": {"x": {"field": "min", "type": "quantitative", "scale": {"domain": [0, 1], "range": [207, 380], "padding": 14.5, "nice": false, "zero": false},
            "axis": {"orient": "bottom", "offset": -80, "domain": false, "labels": false, "grid": false, "title": "Potencial Reciclable", "titleFontSize": 12.5, "titleY": 13, "titleBaseline": "alphabetic", "titleAlign": "center"}},
            "x2": {"field": "max"}, "y": {"datum": 0, "type": "quantitative", "scale": {"domain": [0, 1], "range": [1184, 1139], "nice": false, "zero": false}, "axis": null}, "y2": {"datum": 1}}},
        {"mark": {"type": "rule", "stroke": "#2a2a2a", "strokeWidth": 4, "xOffset": -10, "x2Offset": 10}, "encoding": {"x": {"field": "min", "type": "quantitative", "axis": null}, "x2": {"field": "max"}, "y": {"datum": 0.8, "type": "quantitative", "axis": null}}},
        {"mark": {"type": "rule", "stroke": "#c8c8c8", "strokeWidth": 1.5, "xOffset": -9, "x2Offset": 9}, "encoding": {"x": {"field": "min", "type": "quantitative", "axis": null}, "x2": {"field": "max"}, "y": {"datum": 0.8, "type": "quantitative", "axis": null}}},
        {"mark": {"type": "point", "shape": "M-9,-7H9V7H-9Z", "size": 4, "filled": true, "fill": "#e6e6e6", "stroke": "#505050", "strokeWidth": 1, "opacity": 1}, "encoding": {"x": {"field": "value", "type": "quantitative", "axis": null}, "y": {"datum": 0.8, "type": "quantitative", "axis": null}}},
        {"mark": {"type": "text", "align": "left", "baseline": "middle", "dx": -7.5, "font": "Liberation Sans", "fontWeight": "bold", "fontSize": 17}, "encoding": {"x": {"field": "min", "type": "quantitative", "axis": null}, "y": {"datum": 0.32, "type": "quantitative", "axis": null}, "text": {"field": "lo"}}},
        {"mark": {"type": "text", "align": "left", "baseline": "middle", "dx": 13.5, "font": "Liberation Sans", "fontWeight": "bold", "fontSize": 17}, "encoding": {"x": {"field": "min", "type": "quantitative", "axis": null}, "y": {"datum": 0.32, "type": "quantitative", "axis": null}, "text": {"field": "val"}}},
        {"mark": {"type": "text", "align": "center", "baseline": "middle", "dx": -16.5, "font": "Liberation Sans", "fontSize": 17, "text": "]"}, "encoding": {"x": {"field": "max", "type": "quantitative", "axis": null}, "y": {"datum": 0.32, "type": "quantitative", "axis": null}}},
        {"mark": {"type": "text", "align": "right", "baseline": "middle", "dx": 8.5, "font": "Liberation Sans", "fontWeight": "bold", "fontSize": 17}, "encoding": {"x": {"field": "max", "type": "quantitative", "axis": null}, "y": {"datum": 0.32, "type": "quantitative", "axis": null}, "text": {"field": "hi"}}}
      ]
    },
    {
      "data": {"values": [{"min": 0, "max": 1, "value": 0.06, "lo": "0", "val": "[0.06", "hi": "1"}]},
      "resolve": {"axis": {"x": "independent", "y": "independent"}},
      "layer": [
        {"mark": {"type": "rect", "filled": false, "stroke": "#707070", "strokeWidth": 1.5, "xOffset": -14.5, "x2Offset": 14.5},
          "encoding": {"x": {"field": "min", "type": "quantitative", "scale": {"domain": [0, 1], "range": [427, 600], "padding": 14.5, "nice": false, "zero": false},
            "axis": {"orient": "bottom", "offset": -82, "domain": false, "labels": false, "grid": false, "title": "Difución Inicial", "titleFontSize": 12.5, "titleY": 13, "titleBaseline": "alphabetic", "titleAlign": "center"}},
            "x2": {"field": "max"}, "y": {"datum": 0, "type": "quantitative", "scale": {"domain": [0, 1], "range": [1182, 1139], "nice": false, "zero": false}, "axis": null}, "y2": {"datum": 1}}},
        {"mark": {"type": "rule", "stroke": "#2a2a2a", "strokeWidth": 4, "xOffset": -10, "x2Offset": 10}, "encoding": {"x": {"field": "min", "type": "quantitative", "axis": null}, "x2": {"field": "max"}, "y": {"datum": 0.8, "type": "quantitative", "axis": null}}},
        {"mark": {"type": "rule", "stroke": "#c8c8c8", "strokeWidth": 1.5, "xOffset": -9, "x2Offset": 9}, "encoding": {"x": {"field": "min", "type": "quantitative", "axis": null}, "x2": {"field": "max"}, "y": {"datum": 0.8, "type": "quantitative", "axis": null}}},
        {"mark": {"type": "point", "shape": "M-9,-7H9V7H-9Z", "size": 4, "filled": true, "fill": "#e6e6e6", "stroke": "#505050", "strokeWidth": 1, "opacity": 1}, "encoding": {"x": {"field": "value", "type": "quantitative", "axis": null}, "y": {"datum": 0.8, "type": "quantitative", "axis": null}}},
        {"mark": {"type": "text", "align": "left", "baseline": "middle", "dx": -7.5, "font": "Liberation Sans", "fontWeight": "bold", "fontSize": 17}, "encoding": {"x": {"field": "min", "type": "quantitative", "axis": null}, "y": {"datum": 0.32, "type": "quantitative", "axis": null}, "text": {"field": "lo"}}},
        {"mark": {"type": "text", "align": "left", "baseline": "middle", "dx": 13.5, "font": "Liberation Sans", "fontWeight": "bold", "fontSize": 17}, "encoding": {"x": {"field": "min", "type": "quantitative", "axis": null}, "y": {"datum": 0.32, "type": "quantitative", "axis": null}, "text": {"field": "val"}}},
        {"mark": {"type": "text", "align": "center", "baseline": "middle", "dx": -16.5, "font": "Liberation Sans", "fontSize": 17, "text": "]"}, "encoding": {"x": {"field": "max", "type": "quantitative", "axis": null}, "y": {"datum": 0.32, "type": "quantitative", "axis": null}}},
        {"mark": {"type": "text", "align": "right", "baseline": "middle", "dx": 8.5, "font": "Liberation Sans", "fontWeight": "bold", "fontSize": 17}, "encoding": {"x": {"field": "max", "type": "quantitative", "axis": null}, "y": {"datum": 0.32, "type": "quantitative", "axis": null}, "text": {"field": "hi"}}}
      ]
    },
    {
      "data": {"values": [{"min": 2000, "max": 20000, "value": 2000, "lo": "2,(", "val": "[2,000", "hi": "00"}]},
      "resolve": {"axis": {"x": "independent", "y": "independent"}},
      "layer": [
        {"mark": {"type": "rect", "filled": false, "stroke": "#707070", "strokeWidth": 1.5, "xOffset": -14.5, "x2Offset": 14.5},
          "encoding": {"x": {"field": "min", "type": "quantitative", "scale": {"domain": [2000, 20000], "range": [641, 813], "padding": 14.5, "nice": false, "zero": false},
            "axis": {"orient": "bottom", "offset": -77, "domain": false, "labels": false, "grid": false, "title": "Capacidad Inicial", "titleFontSize": 12.5, "titleY": 13, "titleBaseline": "alphabetic", "titleAlign": "center"}},
            "x2": {"field": "max"}, "y": {"datum": 0, "type": "quantitative", "scale": {"domain": [0, 1], "range": [1187, 1143], "nice": false, "zero": false}, "axis": null}, "y2": {"datum": 1}}},
        {"mark": {"type": "rule", "stroke": "#2a2a2a", "strokeWidth": 4, "xOffset": -10, "x2Offset": 10}, "encoding": {"x": {"field": "min", "type": "quantitative", "axis": null}, "x2": {"field": "max"}, "y": {"datum": 0.8, "type": "quantitative", "axis": null}}},
        {"mark": {"type": "rule", "stroke": "#c8c8c8", "strokeWidth": 1.5, "xOffset": -9, "x2Offset": 9}, "encoding": {"x": {"field": "min", "type": "quantitative", "axis": null}, "x2": {"field": "max"}, "y": {"datum": 0.8, "type": "quantitative", "axis": null}}},
        {"mark": {"type": "point", "shape": "M-9,-7H9V7H-9Z", "size": 4, "filled": true, "fill": "#e6e6e6", "stroke": "#505050", "strokeWidth": 1, "opacity": 1}, "encoding": {"x": {"field": "value", "type": "quantitative", "axis": null}, "y": {"datum": 0.8, "type": "quantitative", "axis": null}}},
        {"mark": {"type": "text", "align": "left", "baseline": "middle", "dx": -7.5, "font": "Liberation Sans", "fontWeight": "bold", "fontSize": 17}, "encoding": {"x": {"field": "min", "type": "quantitative", "axis": null}, "y": {"datum": 0.32, "type": "quantitative", "axis": null}, "text": {"field": "lo"}}},
        {"mark": {"type": "text", "align": "left", "baseline": "middle", "dx": 13.5, "font": "Liberation Sans", "fontWeight": "bold", "fontSize": 17}, "encoding": {"x": {"field": "min", "type": "quantitative", "axis": null}, "y": {"datum": 0.32, "type": "quantitative", "axis": null}, "text": {"field": "val"}}},
        {"mark": {"type": "text", "align": "center", "baseline": "middle", "dx": -16.5, "font": "Liberation Sans", "fontSize": 17, "text": "]"}, "encoding": {"x": {"field": "max", "type": "quantitative", "axis": null}, "y": {"datum": 0.32, "type": "quantitative", "axis": null}}},
        {"mark": {"type": "text", "align": "right", "baseline": "middle", "dx": 8.5, "font": "Liberation Sans", "fontWeight": "bold", "fontSize": 17}, "encoding": {"x": {"field": "max", "type": "quantitative", "axis": null}, "y": {"datum": 0.32, "type": "quantitative", "axis": null}, "text": {"field": "hi"}}}
      ]
    },
    {
      "data": {"values": [{"min": 0, "max": 120, "value": 36, "lo": "0", "val": "[36", "hi": "20"}]},
      "resolve": {"axis": {"x": "independent", "y": "independent"}},
      "layer": [
        {"mark": {"type": "rect", "filled": false, "stroke": "#707070", "strokeWidth": 1.5, "xOffset": -14.5, "x2Offset": 14.5},
          "encoding": {"x": {"field": "min", "type": "quantitative", "scale": {"domain": [0, 120], "range": [860, 1032], "padding": 14.5, "nice": false, "zero": false},
            "axis": {"orient": "bottom", "offset": -80, "domain": false, "labels": false, "grid": false, "title": "Inicio de Aplicación Ley RSU 0", "titleFontSize": 12.5, "titleY": 13, "titleBaseline": "alphabetic", "titleAlign": "center"}},
            "x2": {"field": "max"}, "y": {"datum": 0, "type": "quantitative", "scale": {"domain": [0, 1], "range": [1184, 1143], "nice": false, "zero": false}, "axis": null}, "y2": {"datum": 1}}},
        {"mark": {"type": "rule", "stroke": "#2a2a2a", "strokeWidth": 4, "xOffset": -10, "x2Offset": 10}, "encoding": {"x": {"field": "min", "type": "quantitative", "axis": null}, "x2": {"field": "max"}, "y": {"datum": 0.8, "type": "quantitative", "axis": null}}},
        {"mark": {"type": "rule", "stroke": "#c8c8c8", "strokeWidth": 1.5, "xOffset": -9, "x2Offset": 9}, "encoding": {"x": {"field": "min", "type": "quantitative", "axis": null}, "x2": {"field": "max"}, "y": {"datum": 0.8, "type": "quantitative", "axis": null}}},
        {"mark": {"type": "point", "shape": "M-9,-7H9V7H-9Z", "size": 4, "filled": true, "fill": "#e6e6e6", "stroke": "#505050", "strokeWidth": 1, "opacity": 1}, "encoding": {"x": {"field": "value", "type": "quantitative", "axis": null}, "y": {"datum": 0.8, "type": "quantitative", "axis": null}}},
        {"mark": {"type": "text", "align": "left", "baseline": "middle", "dx": -7.5, "font": "Liberation Sans", "fontWeight": "bold", "fontSize": 17}, "encoding": {"x": {"field": "min", "type": "quantitative", "axis": null}, "y": {"datum": 0.32, "type": "quantitative", "axis": null}, "text": {"field": "lo"}}},
        {"mark": {"type": "text", "align": "left", "baseline": "middle", "dx": 13.5, "font": "Liberation Sans", "fontWeight": "bold", "fontSize": 17}, "encoding": {"x": {"field": "min", "type": "quantitative", "axis": null}, "y": {"datum": 0.32, "type": "quantitative", "axis": null}, "text": {"field": "val"}}},
        {"mark": {"type": "text", "align": "center", "baseline": "middle", "dx": -16.5, "font": "Liberation Sans", "fontSize": 17, "text": "]"}, "encoding": {"x": {"field": "max", "type": "quantitative", "axis": null}, "y": {"datum": 0.32, "type": "quantitative", "axis": null}}},
        {"mark": {"type": "text", "align": "right", "baseline": "middle", "dx": 8.5, "font": "Liberation Sans", "fontWeight": "bold", "fontSize": 17}, "encoding": {"x": {"field": "max", "type": "quantitative", "axis": null}, "y": {"datum": 0.32, "type": "quantitative", "axis": null}, "text": {"field": "hi"}}}
      ]
    },
    {
      "data": {"values": [{"min": 0, "max": 1, "value": 0, "lo": "0", "val": "[0", "hi": "1"}]},
      "resolve": {"axis": {"x": "independent", "y": "independent"}},
      "layer": [
        {"mark": {"type": "rect", "filled": false, "stroke": "#707070", "strokeWidth": 1.5, "xOffset": -14.5, "x2Offset": 14.5},
          "encoding": {"x": {"field": "min", "type": "quantitative", "scale": {"domain": [0, 1], "range": [1048, 1222], "padding": 14.5, "nice": false, "zero": false},
            "axis": {"orient": "bottom", "offset": -80, "domain": false, "labels": false, "grid": false, "title": "Procesos Paralelos", "titleFontSize": 12.5, "titleY": 13, "titleBaseline": "alphabetic", "titleAlign": "center"}},
            "x2": {"field": "max"}, "y": {"datum": 0, "type": "quantitative", "scale": {"domain": [0, 1], "range": [1184, 1143], "nice": false, "zero": false}, "axis": null}, "y2": {"datum": 1}}},
        {"mark": {"type": "rule", "stroke": "#2a2a2a", "strokeWidth": 4, "xOffset": -10, "x2Offset": 10}, "encoding": {"x": {"field": "min", "type": "quantitative", "axis": null}, "x2": {"field": "max"}, "y": {"datum": 0.8, "type": "quantitative", "axis": null}}},
        {"mark": {"type": "rule", "stroke": "#c8c8c8", "strokeWidth": 1.5, "xOffset": -9, "x2Offset": 9}, "encoding": {"x": {"field": "min", "type": "quantitative", "axis": null}, "x2": {"field": "max"}, "y": {"datum": 0.8, "type": "quantitative", "axis": null}}},
        {"mark": {"type": "point", "shape": "M-9,-7H9V7H-9Z", "size": 4, "filled": true, "fill": "#e6e6e6", "stroke": "#505050", "strokeWidth": 1, "opacity": 1}, "encoding": {"x": {"field": "value", "type": "quantitative", "axis": null}, "y": {"datum": 0.8, "type": "quantitative", "axis": null}}},
        {"mark": {"type": "text", "align": "left", "baseline": "middle", "dx": -7.5, "font": "Liberation Sans", "fontWeight": "bold", "fontSize": 17}, "encoding": {"x": {"field": "min", "type": "quantitative", "axis": null}, "y": {"datum": 0.32, "type": "quantitative", "axis": null}, "text": {"field": "lo"}}},
        {"mark": {"type": "text", "align": "left", "baseline": "middle", "dx": 13.5, "font": "Liberation Sans", "fontWeight": "bold", "fontSize": 17}, "encoding": {"x": {"field": "min", "type": "quantitative", "axis": null}, "y": {"datum": 0.32, "type": "quantitative", "axis": null}, "text": {"field": "val"}}},
        {"mark": {"type": "text", "align": "center", "baseline": "middle", "dx": -16.5, "font": "Liberation Sans", "fontSize": 17, "text": "]"}, "encoding": {"x": {"field": "max", "type": "quantitative", "axis": null}, "y": {"datum": 0.32, "type": "quantitative", "axis": null}}},
        {"mark": {"type": "text", "align": "right", "baseline": "middle", "dx": 8.5, "font": "Liberation Sans", "fontWeight": "bold", "fontSize": 17}, "encoding": {"x": {"field": "max", "type": "quantitative", "axis": null}, "y": {"datum": 0.32, "type": "quantitative", "axis": null}, "text": {"field": "hi"}}}
      ]
    },
    {
      "data": {"values": [{"min": 0, "max": 1, "value": 0.8, "lo": "0", "val": "[0.8", "hi": "1"}]},
      "resolve": {"axis": {"x": "independent", "y": "independent"}},
      "layer": [
        {"mark": {"type": "rect", "filled": false, "stroke": "#707070", "strokeWidth": 1.5, "xOffset": -14.5, "x2Offset": 14.5},
          "encoding": {"x": {"field": "min", "type": "quantitative", "scale": {"domain": [0, 1], "range": [212, 385], "padding": 14.5, "nice": false, "zero": false},
            "axis": {"orient": "bottom", "offset": -16, "domain": false, "labels": false, "grid": false, "title": "Punto nueva necesidad de Centro Verde", "titleFontSize": 12.5, "titleY": 13, "titleBaseline": "alphabetic", "titleAlign": "center"}},
            "x2": {"field": "max"}, "y": {"datum": 0, "type": "quantitative", "scale": {"domain": [0, 1], "range": [1248, 1203], "nice": false, "zero": false}, "axis": null}, "y2": {"datum": 1}}},
        {"mark": {"type": "rule", "stroke": "#2a2a2a", "strokeWidth": 4, "xOffset": -10, "x2Offset": 10}, "encoding": {"x": {"field": "min", "type": "quantitative", "axis": null}, "x2": {"field": "max"}, "y": {"datum": 0.8, "type": "quantitative", "axis": null}}},
        {"mark": {"type": "rule", "stroke": "#c8c8c8", "strokeWidth": 1.5, "xOffset": -9, "x2Offset": 9}, "encoding": {"x": {"field": "min", "type": "quantitative", "axis": null}, "x2": {"field": "max"}, "y": {"datum": 0.8, "type": "quantitative", "axis": null}}},
        {"mark": {"type": "point", "shape": "M-9,-7H9V7H-9Z", "size": 4, "filled": true, "fill": "#e6e6e6", "stroke": "#505050", "strokeWidth": 1, "opacity": 1}, "encoding": {"x": {"field": "value", "type": "quantitative", "axis": null}, "y": {"datum": 0.8, "type": "quantitative", "axis": null}}},
        {"mark": {"type": "text", "align": "left", "baseline": "middle", "dx": -7.5, "font": "Liberation Sans", "fontWeight": "bold", "fontSize": 17}, "encoding": {"x": {"field": "min", "type": "quantitative", "axis": null}, "y": {"datum": 0.32, "type": "quantitative", "axis": null}, "text": {"field": "lo"}}},
        {"mark": {"type": "text", "align": "left", "baseline": "middle", "dx": 13.5, "font": "Liberation Sans", "fontWeight": "bold", "fontSize": 17}, "encoding": {"x": {"field": "min", "type": "quantitative", "axis": null}, "y": {"datum": 0.32, "type": "quantitative", "axis": null}, "text": {"field": "val"}}},
        {"mark": {"type": "text", "align": "center", "baseline": "middle", "dx": -16.5, "font": "Liberation Sans", "fontSize": 17, "text": "]"}, "encoding": {"x": {"field": "max", "type": "quantitative", "axis": null}, "y": {"datum": 0.32, "type": "quantitative", "axis": null}}},
        {"mark": {"type": "text", "align": "right", "baseline": "middle", "dx": 8.5, "font": "Liberation Sans", "fontWeight": "bold", "fontSize": 17}, "encoding": {"x": {"field": "max", "type": "quantitative", "axis": null}, "y": {"datum": 0.32, "type": "quantitative", "axis": null}, "text": {"field": "hi"}}}
      ]
    },
    {
      "data": {"values": [{"min": 0, "max": 1, "value": 0.04, "lo": "0", "val": "[0.04", "hi": "1"}]},
      "resolve": {"axis": {"x": "independent", "y": "independent"}},
      "layer": [
        {"mark": {"type": "rect", "filled": false, "stroke": "#707070", "strokeWidth": 1.5, "xOffset": -14.5, "x2Offset": 14.5},
          "encoding": {"x": {"field": "min", "type": "quantitative", "scale": {"domain": [0, 1], "range": [427, 600], "padding": 14.5, "nice": false, "zero": false},
            "axis": {"orient": "bottom", "offset": -18, "domain": false, "labels": false, "grid": false, "title": "Pendiente de Difución", "titleFontSize": 12.5, "titleY": 13, "titleBaseline": "alphabetic", "titleAlign": "center"}},
            "x2": {"field": "max"}, "y": {"datum": 0, "type": "quantitative", "scale": {"domain": [0, 1], "range": [1246, 1203], "nice": false, "zero": false}, "axis": null}, "y2": {"datum": 1}}},
        {"mark": {"type": "rule", "stroke": "#2a2a2a", "strokeWidth": 4, "xOffset": -10, "x2Offset": 10}, "encoding": {"x": {"field": "min", "type": "quantitative", "axis": null}, "x2": {"field": "max"}, "y": {"datum": 0.8, "type": "quantitative", "axis": null}}},
        {"mark": {"type": "rule", "stroke": "#c8c8c8", "strokeWidth": 1.5, "xOffset": -9, "x2Offset": 9}, "encoding": {"x": {"field": "min", "type": "quantitative", "axis": null}, "x2": {"field": "max"}, "y": {"datum": 0.8, "type": "quantitative", "axis": null}}},
        {"mark": {"type": "point", "shape": "M-9,-7H9V7H-9Z", "size": 4, "filled": true, "fill": "#e6e6e6", "stroke": "#505050", "strokeWidth": 1, "opacity": 1}, "encoding": {"x": {"field": "value", "type": "quantitative", "axis": null}, "y": {"datum": 0.8, "type": "quantitative", "axis": null}}},
        {"mark": {"type": "text", "align": "left", "baseline": "middle", "dx": -7.5, "font": "Liberation Sans", "fontWeight": "bold", "fontSize": 17}, "encoding": {"x": {"field": "min", "type": "quantitative", "axis": null}, "y": {"datum": 0.32, "type": "quantitative", "axis": null}, "text": {"field": "lo"}}},
        {"mark": {"type": "text", "align": "left", "baseline": "middle", "dx": 13.5, "font": "Liberation Sans", "fontWeight": "bold", "fontSize": 17}, "encoding": {"x": {"field": "min", "type": "quantitative", "axis": null}, "y": {"datum": 0.32, "type": "quantitative", "axis": null}, "text": {"field": "val"}}},
        {"mark": {"type": "text", "align": "center", "baseline": "middle", "dx": -16.5, "font": "Liberation Sans", "fontSize": 17, "text": "]"}, "encoding": {"x": {"field": "max", "type": "quantitative", "axis": null}, "y": {"datum": 0.32, "type": "quantitative", "axis": null}}},
        {"mark": {"type": "text", "align": "right", "baseline": "middle", "dx": 8.5, "font": "Liberation Sans", "fontWeight": "bold", "fontSize": 17}, "encoding": {"x": {"field": "max", "type": "quantitative", "axis": null}, "y": {"datum": 0.32, "type": "quantitative", "axis": null}, "text": {"field": "hi"}}}
      ]
    },
    {
      "data": {"values": [{"min": 250, "max": 25000, "value": 1200, "lo": "25", "val": "[1,200", "hi": "00"}]},
      "resolve": {"axis": {"x": "independent", "y": "independent"}},
      "layer": [
        {"mark": {"type": "rect", "filled": false, "stroke": "#707070", "strokeWidth": 1.5, "xOffset": -14.5, "x2Offset": 14.5},
          "encoding": {"x": {"field": "min", "type": "quantitative", "scale": {"domain": [250, 25000], "range": [641, 813], "padding": 14.5, "nice": false, "zero": false},
            "axis": {"orient": "bottom", "offset": -19, "domain": false, "labels": false, "grid": false, "title": "Capacidad Media de Aumento", "titleFontSize": 12.5, "titleY": 13, "titleBaseline": "alphabetic", "titleAlign": "center"}},
            "x2": {"field": "max"}, "y": {"datum": 0, "type": "quantitative", "scale": {"domain": [0, 1], "range": [1245, 1201], "nice": false, "zero": false}, "axis": null}, "y2": {"datum": 1}}},
        {"mark": {"type": "rule", "stroke": "#2a2a2a", "strokeWidth": 4, "xOffset": -10, "x2Offset": 10}, "encoding": {"x": {"field": "min", "type": "quantitative", "axis": null}, "x2": {"field": "max"}, "y": {"datum": 0.8, "type": "quantitative", "axis": null}}},
        {"mark": {"type": "rule", "stroke": "#c8c8c8", "strokeWidth": 1.5, "xOffset": -9, "x2Offset": 9}, "encoding": {"x": {"field": "min", "type": "quantitative", "axis": null}, "x2": {"field": "max"}, "y": {"datum": 0.8, "type": "quantitative", "axis": null}}},
        {"mark": {"type": "point", "shape": "M-9,-7H9V7H-9Z", "size": 4, "filled": true, "fill": "#e6e6e6", "stroke": "#505050", "strokeWidth": 1, "opacity": 1}, "encoding": {"x": {"field": "value", "type": "quantitative", "axis": null}, "y": {"datum": 0.8, "type": "quantitative", "axis": null}}},
        {"mark": {"type": "text", "align": "left", "baseline": "middle", "dx": -7.5, "font": "Liberation Sans", "fontWeight": "bold", "fontSize": 17}, "encoding": {"x": {"field": "min", "type": "quantitative", "axis": null}, "y": {"datum": 0.32, "type": "quantitative", "axis": null}, "text": {"field": "lo"}}},
        {"mark": {"type": "text", "align": "left", "baseline": "middle", "dx": 13.5, "font": "Liberation Sans", "fontWeight": "bold", "fontSize": 17}, "encoding": {"x": {"field": "min", "type": "quantitative", "axis": null}, "y": {"datum": 0.32, "type": "quantitative", "axis": null}, "text": {"field": "val"}}},
        {"mark": {"type": "text", "align": "center", "baseline": "middle", "dx": -16.5, "font": "Liberation Sans", "fontSize": 17, "text": "]"}, "encoding": {"x": {"field": "max", "type": "quantitative", "axis": null}, "y": {"datum": 0.32, "type": "quantitative", "axis": null}}},
        {"mark": {"type": "text", "align": "right", "baseline": "middle", "dx": 8.5, "font": "Liberation Sans", "fontWeight": "bold", "fontSize": 17}, "encoding": {"x": {"field": "max", "type": "quantitative", "axis": null}, "y": {"datum": 0.32, "type": "quantitative", "axis": null}, "text": {"field": "hi"}}}
      ]
    },
    {
      "data": {"values": [{"min": 1, "max": 40, "value": 12, "lo": "1", "val": "[12", "hi": "40"}]},
      "resolve": {"axis": {"x": "independent", "y": "independent"}},
      "layer": [
        {"mark": {"type": "rect", "filled": false, "stroke": "#707070", "strokeWidth": 1.5, "xOffset": -14.5, "x2Offset": 14.5},
          "encoding": {"x": {"field": "min", "type": "quantitative", "scale": {"domain": [1, 40], "range": [860, 1032], "padding": 14.5, "nice": false, "zero": false},
            "axis": {"orient": "bottom", "offset": -18, "domain": false, "labels": false, "grid": false, "title": "Tiempo de construcción", "titleFontSize": 12.5, "titleY": 13, "titleBaseline": "alphabetic", "titleAlign": "center"}},
            "x2": {"field": "max"}, "y": {"datum": 0, "type": "quantitative", "scale": {"domain": [0, 1], "range": [1246, 1203], "nice": false, "zero": false}, "axis": null}, "y2": {"datum": 1}}},
        {"mark": {"type": "rule", "stroke": "#2a2a2a", "strokeWidth": 4, "xOffset": -10, "x2Offset": 10}, "encoding": {"x": {"field": "min", "type": "quantitative", "axis": null}, "x2": {"field": "max"}, "y": {"datum": 0.8, "type": "quantitative", "axis": null}}},
        {"mark": {"type": "rule", "stroke": "#c8c8c8", "strokeWidth": 1.5, "xOffset": -9, "x2Offset": 9}, "encoding": {"x": {"field": "min", "type": "quantitative", "axis": null}, "x2": {"field": "max"}, "y": {"datum": 0.8, "type": "quantitative", "axis": null}}},
        {"mark": {"type": "point", "shape": "M-9,-7H9V7H-9Z", "size": 4, "filled": true, "fill": "#e6e6e6", "stroke": "#505050", "strokeWidth": 1, "opacity": 1}, "encoding": {"x": {"field": "value", "type": "quantitative", "axis": null}, "y": {"datum": 0.8, "type": "quantitative", "axis": null}}},
        {"mark": {"type": "text", "align": "left", "baseline": "middle", "dx": -7.5, "font": "Liberation Sans", "fontWeight": "bold", "fontSize": 17}, "encoding": {"x": {"field": "min", "type": "quantitative", "axis": null}, "y": {"datum": 0.32, "type": "quantitative", "axis": null}, "text": {"field": "lo"}}},
        {"mark": {"type": "text", "align": "left", "baseline": "middle", "dx": 13.5, "font": "Liberation Sans", "fontWeight": "bold", "fontSize": 17}, "encoding": {"x": {"field": "min", "type": "quantitative", "axis": null}, "y": {"datum": 0.32, "type": "quantitative", "axis": null}, "text": {"field": "val"}}},
        {"mark": {"type": "text", "align": "center", "baseline": "middle", "dx": -16.5, "font": "Liberation Sans", "fontSize": 17, "text": "]"}, "encoding": {"x": {"field": "max", "type": "quantitative", "axis": null}, "y": {"datum": 0.32, "type": "quantitative", "axis": null}}},
        {"mark": {"type": "text", "align": "right", "baseline": "middle", "dx": 8.5, "font": "Liberation Sans", "fontWeight": "bold", "fontSize": 17}, "encoding": {"x": {"field": "max", "type": "quantitative", "axis": null}, "y": {"datum": 0.32, "type": "quantitative", "axis": null}, "text": {"field": "hi"}}}
      ]
    }
  ]
}
